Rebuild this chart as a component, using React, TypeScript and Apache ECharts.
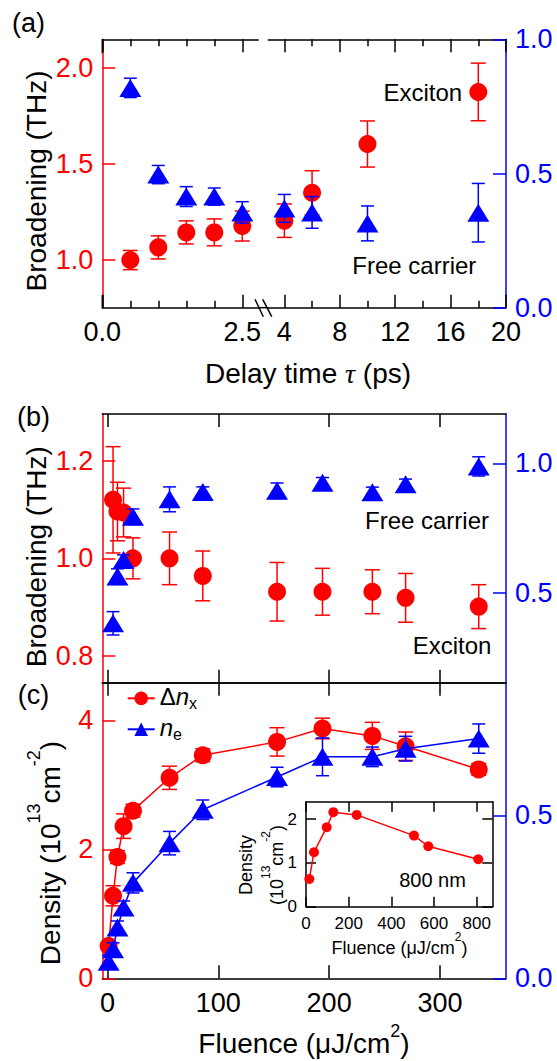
import React, { useEffect, useRef } from 'react';
import * as echarts from 'echarts';

const FONT = '"Liberation Sans", Arial, Helvetica, sans-serif';
const RED = '#ff0000';
const BLUE = '#0000ff';
const BLACK = '#000000';

// ---------- Panel (a): broadening vs delay time ----------
const delayLeft = [0.5, 1.0, 1.5, 2.0, 2.5];
const delayRight = [4, 6, 10, 18];
const excitonA_L = [1.0, 1.066, 1.144, 1.144, 1.177];
const excitonErrA_L = [0.05, 0.06, 0.06, 0.07, 0.078];
const excitonA_R = [1.205, 1.35, 1.604, 1.875];
const excitonErrA_R = [0.087, 0.115, 0.12, 0.15];
const carrierA_L = [0.819, 0.496, 0.414, 0.414, 0.355];
const carrierErrA_L = [0.036, 0.034, 0.037, 0.032, 0.04];
const carrierA_R = [0.37, 0.355, 0.314, 0.354];
const carrierErrA_R = [0.052, 0.059, 0.065, 0.109];

// ---------- Panel (b): broadening vs fluence ----------
const fluenceB = [5, 9, 14.5, 23, 56, 86, 153, 194, 239, 269, 335];
const excitonB = [1.12, 1.096, 1.094, 1.0, 1.0, 0.964, 0.9315, 0.9315, 0.9315, 0.919, 0.901];
const excitonErrB = [0.109, 0.06, 0.05, 0.042, 0.054, 0.051, 0.06, 0.048, 0.045, 0.05, 0.045];
const carrierB = [0.383, 0.563, 0.627, 0.794, 0.861, 0.889, 0.894, 0.925, 0.888, 0.919, 0.988];
const carrierErrB = [0.045, 0.03, 0.02, 0.03, 0.048, 0.02, 0.03, 0.02, 0.02, 0.02, 0.037];

// ---------- Panel (c): density vs fluence ----------
const fluenceC = [1, 5, 9, 14.5, 23, 56, 86, 153, 194, 239, 269, 335];
const densityX = [0.5, 1.28, 1.88, 2.36, 2.6, 3.11, 3.46, 3.667, 3.875, 3.76, 3.6, 3.24];
const densityXErr = [0.05, 0.156, 0.1, 0.19, 0.1, 0.18, 0.1, 0.22, 0.16, 0.21, 0.22, 0.09];
const densityE = [0.051, 0.089, 0.156, 0.2175, 0.293, 0.415, 0.5175, 0.618, 0.68, 0.68, 0.705, 0.736];
const densityEErr = [0.02, 0.02, 0.02, 0.02, 0.031, 0.036, 0.03, 0.03, 0.058, 0.03, 0.038, 0.045];

// ---------- Inset: 800 nm ----------
const insetFluence = [15.5, 37.5, 97, 128, 237.5, 506, 573, 807];
const insetDensity = [0.634, 1.245, 1.817, 2.16, 2.098, 1.625, 1.382, 1.085];

// ---------- tick values ----------
const tickA_left = [0, 2.5];
const minorA_left = [0.5, 1, 1.5, 2];
const tickA_right = [4, 8, 12, 16, 20];
const minorA_right = [6, 10, 14, 18];
const tickA_red = [1.0, 1.5, 2.0];
const tickA_blue = [0, 0.5, 1.0];
const tickB_red = [0.8, 1.0, 1.2];
const tickB_blue = [0.5, 1.0];
const tickC_red = [0, 2, 4];
const tickC_blue = [0, 0.5];
const tickFluence = [0, 100, 200, 300];
const tickInsetX = [0, 200, 400, 600, 800];
const tickInsetY = [0, 1, 2];

// ---------- layout ----------
const L = 102.3;
const R = 506;
const A_TOP = 39.3;
const A_BOT = 307.7;
const BRK_L = 258.3;
const BRK_R = 268.3;
const B_TOP = 414;
const B_BOT = 682.7;
const C_BOT = 978.3;
const IN = { left: 306, right: 492.3, top: 801.7, bottom: 906.7 };

const zip = (xs: number[], ys: number[], es?: number[]) =>
  xs.map((x, i) => (es ? [x, ys[i], es[i]] : [x, ys[i]]));

const errRender = (color: string, cap: number) => (params: any, api: any) => {
  const x = api.value(0);
  const y = api.value(1);
  const e = api.value(2);
  const p1 = api.coord([x, y + e]);
  const p2 = api.coord([x, y - e]);
  const h = cap / 2;
  const st = { stroke: color, lineWidth: 1.5 };
  return {
    type: 'group',
    children: [
      { type: 'line', shape: { x1: p1[0], y1: p1[1], x2: p2[0], y2: p2[1] }, style: st },
      { type: 'line', shape: { x1: p1[0] - h, y1: p1[1], x2: p1[0] + h, y2: p1[1] }, style: st },
      { type: 'line', shape: { x1: p2[0] - h, y1: p2[1], x2: p2[0] + h, y2: p2[1] }, style: st },
    ],
  };
};

const errSeries = (xi: number, yi: number, data: any[], color: string, cap: number, z: number) => ({
  type: 'custom',
  xAxisIndex: xi,
  yAxisIndex: yi,
  renderItem: errRender(color, cap),
  data,
  encode: { x: 0, y: 1 },
  z,
  silent: true,
  clip: false,
});

const dotSeries = (xi: number, yi: number, data: any[], color: string, tri: boolean, z: number) => ({
  type: 'scatter',
  xAxisIndex: xi,
  yAxisIndex: yi,
  data,
  symbol: tri ? 'triangle' : 'circle',
  symbolSize: tri ? [22, 18] : 18,
  itemStyle: { color, opacity: 1 },
  z,
  silent: true,
});

const xAx = (o: any) => ({
  type: 'value',
  gridIndex: o.grid,
  min: o.min,
  max: o.max,
  position: o.pos,
  axisLine: { show: o.line !== false, onZero: false, lineStyle: { color: BLACK, width: 1.5 } },
  axisTick: {
    show: true,
    inside: true,
    length: o.len,
    customValues: o.ticks,
    lineStyle: { color: BLACK, width: 1.5 },
  },
  axisLabel: o.labels
    ? {
        show: true,
        customValues: o.labels,
        formatter: o.fmt,
        color: BLACK,
        fontSize: o.fs || 27,
        fontFamily: FONT,
        margin: o.margin ?? 11,
      }
    : { show: false },
  splitLine: { show: false },
});

const yAx = (o: any) => ({
  type: 'value',
  gridIndex: o.grid,
  min: o.min,
  max: o.max,
  position: o.pos,
  show: o.show !== false,
  axisLine: { show: true, onZero: false, lineStyle: { color: o.color, width: 1.5 } },
  axisTick: {
    show: true,
    inside: true,
    length: o.len || 13,
    customValues: o.ticks,
    lineStyle: { color: o.color, width: 1.5 },
  },
  axisLabel: o.labels
    ? {
        show: true,
        customValues: o.labels,
        formatter: o.fmt,
        color: o.color,
        fontSize: o.fs || 27,
        fontFamily: FONT,
        margin: o.margin ?? 9,
      }
    : { show: false },
  splitLine: { show: false },
});

const f1 = (v: number) => v.toFixed(1);
const f0 = (v: number) => String(v);

const txt = (text: string, x: number, y: number, fs: number, extra: any = {}) => ({
  type: 'text',
  x,
  y,
  z: 100,
  rotation: extra.rotation || 0,
  style: {
    text,
    fontSize: fs,
    fontFamily: FONT,
    fill: BLACK,
    align: extra.align || 'center',
    textAlign: extra.align || 'center',
    verticalAlign: 'middle',
    textVerticalAlign: 'middle',
    rich: extra.rich,
  },
});

const gline = (x1: number, y1: number, x2: number, y2: number, color = BLACK) => ({
  type: 'line',
  z: 100,
  shape: { x1, y1, x2, y2 },
  style: { stroke: color, lineWidth: 1.5 },
});

const supRich = (fs: number, sfs: number, lh: number) => ({
  m: { fontSize: fs, fontFamily: FONT, lineHeight: lh, verticalAlign: 'bottom', fill: BLACK, color: BLACK },
  s: { fontSize: sfs, fontFamily: FONT, lineHeight: sfs, verticalAlign: 'top', fill: BLACK, color: BLACK },
  t: {
    fontSize: fs,
    fontFamily: '"Liberation Serif", "DejaVu Serif", serif',
    fontStyle: 'italic',
    lineHeight: lh,
    verticalAlign: 'bottom',
    fill: BLACK,
    color: BLACK,
  },
});

const legendRich = {
  d: { fontSize: 24, fontFamily: FONT, lineHeight: 27, verticalAlign: 'top', color: BLACK },
  n: { fontSize: 24, fontFamily: FONT, fontStyle: 'italic', lineHeight: 27, verticalAlign: 'top', color: BLACK },
  s: { fontSize: 16, fontFamily: FONT, lineHeight: 16, verticalAlign: 'bottom', color: BLACK },
};

export default function App() {
  const ref = useRef<HTMLDivElement>(null);

  useEffect(() => {
    if (!ref.current) return;
    const chart = echarts.init(ref.current, undefined, { renderer: 'svg' });

    const grid = [
      { left: L, top: A_TOP, width: BRK_L - L, height: A_BOT - A_TOP },
      { left: BRK_R, top: A_TOP, width: R - BRK_R, height: A_BOT - A_TOP },
      { left: L, top: B_TOP, width: R - L, height: B_BOT - B_TOP },
      { left: L, top: B_BOT, width: R - L, height: C_BOT - B_BOT },
      { left: IN.left, top: IN.top, width: IN.right - IN.left, height: IN.bottom - IN.top },
    ];

    const xAxis = [
      // 0-3: (a) left segment
      xAx({ grid: 0, min: 0, max: 2.786, pos: 'bottom', len: 13, ticks: tickA_left, labels: tickA_left, fmt: f1 }),
      xAx({ grid: 0, min: 0, max: 2.786, pos: 'bottom', len: 7, ticks: minorA_left, line: false }),
      xAx({ grid: 0, min: 0, max: 2.786, pos: 'top', len: 13, ticks: tickA_left }),
      xAx({ grid: 0, min: 0, max: 2.786, pos: 'top', len: 7, ticks: minorA_left, line: false }),
      // 4-7: (a) right segment
      xAx({ grid: 1, min: 2.84, max: 20, pos: 'bottom', len: 13, ticks: tickA_right, labels: tickA_right, fmt: f0 }),
      xAx({ grid: 1, min: 2.84, max: 20, pos: 'bottom', len: 7, ticks: minorA_right, line: false }),
      xAx({ grid: 1, min: 2.84, max: 20, pos: 'top', len: 13, ticks: tickA_right }),
      xAx({ grid: 1, min: 2.84, max: 20, pos: 'top', len: 7, ticks: minorA_right, line: false }),
      // 8-9: (b)
      xAx({ grid: 2, min: -4.69, max: 359.6, pos: 'bottom', len: 13, ticks: tickFluence }),
      xAx({ grid: 2, min: -4.69, max: 359.6, pos: 'top', len: 13, ticks: tickFluence }),
      // 10-11: (c)
      xAx({ grid: 3, min: -4.69, max: 359.6, pos: 'bottom', len: 13, ticks: tickFluence, labels: tickFluence, fmt: f0 }),
      xAx({ grid: 3, min: -4.69, max: 359.6, pos: 'top', len: 13, ticks: tickFluence }),
      // 12-13: inset
      xAx({ grid: 4, min: 0, max: 873, pos: 'bottom', len: 10, ticks: tickInsetX, labels: tickInsetX, fmt: f0, fs: 17, margin: 8 }),
      xAx({ grid: 4, min: 0, max: 873, pos: 'top', len: 10, ticks: tickInsetX }),
    ];

    const yAxis = [
      // 0-1: (a) left grid
      yAx({ grid: 0, min: 0.752, max: 2.149, pos: 'left', color: RED, ticks: tickA_red, labels: tickA_red, fmt: f1 }),
      yAx({ grid: 0, min: 0, max: 1, pos: 'right', color: BLUE, show: false }),
      // 2-3: (a) right grid
      yAx({ grid: 1, min: 0.752, max: 2.149, pos: 'left', color: RED, show: false }),
      yAx({ grid: 1, min: 0, max: 1, pos: 'right', color: BLUE, ticks: tickA_blue, labels: tickA_blue, fmt: f1 }),
      // 4-5: (b)
      yAx({ grid: 2, min: 0.745, max: 1.296, pos: 'left', color: RED, ticks: tickB_red, labels: tickB_red, fmt: f1 }),
      yAx({ grid: 2, min: 0.154, max: 1.19, pos: 'right', color: BLUE, ticks: tickB_blue, labels: tickB_blue, fmt: f1 }),
      // 6-7: (c)
      yAx({ grid: 3, min: 0, max: 4.585, pos: 'left', color: RED, ticks: tickC_red, labels: tickC_red, fmt: f0 }),
      yAx({ grid: 3, min: 0, max: 0.9076, pos: 'right', color: BLUE, ticks: tickC_blue, labels: tickC_blue, fmt: f1 }),
      // 8-9: inset
      yAx({ grid: 4, min: 0, max: 2.4, pos: 'left', color: BLACK, len: 10, ticks: tickInsetY, labels: tickInsetY, fmt: f0, fs: 17, margin: 9 }),
      yAx({ grid: 4, min: 0, max: 2.4, pos: 'right', color: BLACK, len: 10, ticks: tickInsetY }),
    ];

    const series: any[] = [
      // (a) left segment
      errSeries(0, 0, zip(delayLeft, excitonA_L, excitonErrA_L), RED, 15, 2),
      dotSeries(0, 0, zip(delayLeft, excitonA_L), RED, false, 3),
      errSeries(0, 1, zip(delayLeft, carrierA_L, carrierErrA_L), BLUE, 13, 4),
      dotSeries(0, 1, zip(delayLeft, carrierA_L), BLUE, true, 5),
      // (a) right segment
      errSeries(4, 2, zip(delayRight, excitonA_R, excitonErrA_R), RED, 15, 2),
      dotSeries(4, 2, zip(delayRight, excitonA_R), RED, false, 3),
      errSeries(4, 3, zip(delayRight, carrierA_R, carrierErrA_R), BLUE, 13, 4),
      dotSeries(4, 3, zip(delayRight, carrierA_R), BLUE, true, 5),
      // (b)
      errSeries(8, 4, zip(fluenceB, excitonB, excitonErrB), RED, 15, 2),
      dotSeries(8, 4, zip(fluenceB, excitonB), RED, false, 3),
      errSeries(8, 5, zip(fluenceB, carrierB, carrierErrB), BLUE, 13, 4),
      dotSeries(8, 5, zip(fluenceB, carrierB), BLUE, true, 5),
      // (c)
      errSeries(10, 6, zip(fluenceC, densityX, densityXErr), RED, 15, 2),
      {
        name: 'Δn_x',
        type: 'line',
        xAxisIndex: 10,
        yAxisIndex: 6,
        data: zip(fluenceC, densityX),
        symbol: 'circle',
        symbolSize: 18,
        itemStyle: { color: RED },
        lineStyle: { color: RED, width: 1.5 },
        z: 3,
        silent: true,
      },
      errSeries(10, 7, zip(fluenceC, densityE, densityEErr), BLUE, 13, 4),
      {
        name: 'n_e',
        type: 'line',
        xAxisIndex: 10,
        yAxisIndex: 7,
        data: zip(fluenceC, densityE),
        symbol: 'triangle',
        symbolSize: [22, 18],
        itemStyle: { color: BLUE },
        lineStyle: { color: BLUE, width: 1.5 },
        z: 5,
        silent: true,
      },
      // inset
      {
        type: 'line',
        xAxisIndex: 12,
        yAxisIndex: 8,
        data: zip(insetFluence, insetDensity),
        symbol: 'circle',
        symbolSize: 10,
        itemStyle: { color: RED },
        lineStyle: { color: RED, width: 1.5 },
        z: 3,
        silent: true,
      },
    ];

    const legendBase = {
      orient: 'vertical',
      left: 126.7,
      padding: 0,
      itemWidth: 27,
      itemHeight: 17,
      selectedMode: false,
      textStyle: { rich: legendRich },
    };

    const graphic = [
      // black ends of the (a) left frame
      gline(L, A_TOP, L, 53.3),
      gline(L, 295, L, A_BOT),
      // bottom axis through the break, and break marks
      gline(BRK_L, A_BOT, BRK_R, A_BOT),
      gline(255, 299.3, 263.3, 316.7),
      gline(262.7, 299.3, 271.7, 316.7),
      // panel labels
      txt('(a)', 12, 23, 27, { align: 'left' }),
      txt('(b)', 17, 416.7, 27, { align: 'left' }),
      txt('(c)', 17.8, 695, 27, { align: 'left' }),
      // axis titles
      txt('Broadening (THz)', 36, 181, 28, { rotation: Math.PI / 2 }),
      txt('Broadening (THz)', 36, 556.7, 28, { rotation: Math.PI / 2 }),
      txt('{m|Density (10}{s|13}{m|cm}{s|-2}{m|)}', 44.5, 853, 28, {
        rotation: Math.PI / 2,
        rich: supRich(28, 18, 39),
      }),
      txt('{m|Delay time }{t|τ}{m| (ps)}', 308, 371.7, 28, { rich: supRich(28, 18, 32) }),
      txt('{m|Fluence (μJ/cm}{s|2}{m|)}', 304, 1039.5, 28, { rich: supRich(28, 18, 36) }),
      // annotations
      txt('Exciton', 422.8, 92.3, 24),
      txt('Free carrier', 414.3, 265, 24),
      txt('Free carrier', 427, 520, 24),
      txt('Exciton', 452, 645, 24),
      // inset texts
      txt('800 nm', 432.5, 880, 20),
      txt('Density', 246, 865, 18, { rotation: Math.PI / 2 }),
      txt('{m|(10}{s|13}{m|cm}{s|-2}{m|)}', 272.5, 865, 18, {
        rotation: Math.PI / 2,
        rich: supRich(18, 12, 26),
      }),
      txt('{m|Fluence (μJ/cm}{s|2}{m|)}', 399.5, 943.5, 18, { rich: supRich(18, 12, 26) }),
    ];

    chart.setOption({
      animation: false,
      backgroundColor: '#ffffff',
      grid,
      xAxis,
      yAxis,
      series,
      legend: [
        {
          ...legendBase,
          top: 684.8,
          data: ['Δn_x'],
          formatter: () => '{d|Δ}{n|n}{s|x}',
        },
        {
          ...legendBase,
          top: 715.8,
          data: ['n_e'],
          formatter: () => '{n|n}{s|e}',
        },
      ],
      graphic,
    });

    return () => chart.dispose();
  }, []);

  return (
    <div
      ref={ref}
      style={{ position: 'absolute', left: 0, top: 0, width: 557, height: 1061, background: '#fff' }}
    />
  );
}
